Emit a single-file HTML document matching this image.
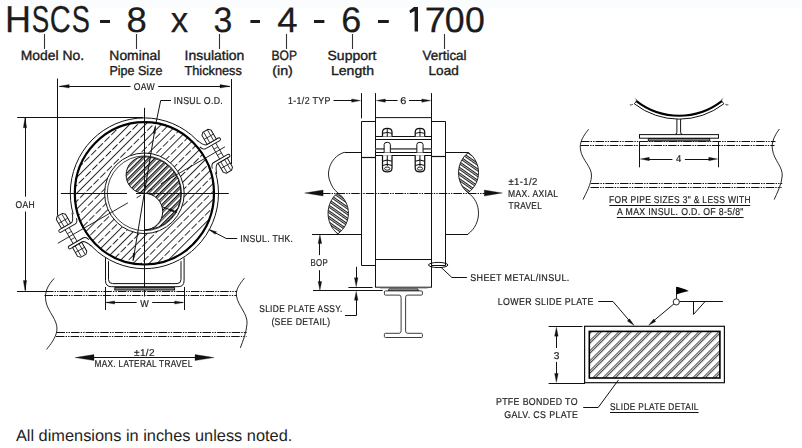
<!DOCTYPE html>
<html><head><meta charset="utf-8"><style>
html,body{margin:0;padding:0;background:#fff;}
body{position:relative;width:802px;height:448px;overflow:hidden;}
svg{display:block;position:absolute;left:0;top:0;}
text{font-family:"Liberation Sans", sans-serif;text-rendering:geometricPrecision;}
#draw{will-change:transform;}
</style></head><body>
<svg width="802" height="448" viewBox="0 0 802 448">
<rect width="802" height="448" fill="#fff"/>
<rect width="802" height="7.5" fill="#fbfcfe"/>
<text transform="translate(4.95,31.57) scale(0.9605,1)" font-size="37.464" fill="#1c1c1c" stroke="#1c1c1c" stroke-width="0.25">H</text>
<text transform="translate(31.65,31.57) scale(0.7006,1)" font-size="37.357" fill="#1c1c1c" stroke="#1c1c1c" stroke-width="0.25">S</text>
<text transform="translate(49.77,31.57) scale(0.7778,1)" font-size="37.357" fill="#1c1c1c" stroke="#1c1c1c" stroke-width="0.25">C</text>
<text transform="translate(71.8,31.57) scale(0.7286,1)" font-size="37.357" fill="#1c1c1c" stroke="#1c1c1c" stroke-width="0.25">S</text>
<text transform="translate(126.58,31.57) scale(1.0320,1)" font-size="35.357" fill="#1c1c1c" stroke="#1c1c1c" stroke-width="0.25">8</text>
<text transform="translate(170.78,31.57) scale(0.9760,1)" font-size="35.755" fill="#1c1c1c" stroke="#1c1c1c" stroke-width="0.25">x</text>
<text transform="translate(213.47,31.57) scale(0.9557,1)" font-size="35.357" fill="#1c1c1c" stroke="#1c1c1c" stroke-width="0.25">3</text>
<text transform="translate(277.14,31.57) scale(1.0338,1)" font-size="35.435" fill="#1c1c1c" stroke="#1c1c1c" stroke-width="0.25">4</text>
<text transform="translate(341.32,31.57) scale(1.0188,1)" font-size="35.357" fill="#1c1c1c" stroke="#1c1c1c" stroke-width="0.25">6</text>
<text transform="translate(424.64,31.57) scale(1.0637,1)" font-size="35.435" fill="#1c1c1c" stroke="#1c1c1c" stroke-width="0.25">7</text>
<text transform="translate(444.7,31.57) scale(1.0105,1)" font-size="35.357" fill="#1c1c1c" stroke="#1c1c1c" stroke-width="0.25">0</text>
<text transform="translate(464.9,31.57) scale(1.0105,1)" font-size="35.357" fill="#1c1c1c" stroke="#1c1c1c" stroke-width="0.25">0</text>
<polygon points="413.9,7 418,7 418,31.6 414.6,31.6 414.6,11 410.3,13.2 409.3,10.7" fill="#1c1c1c"/>
<rect x="100" y="20" width="10" height="3" fill="#1c1c1c"/>
<rect x="250.4" y="20" width="9.6" height="3" fill="#1c1c1c"/>
<rect x="314" y="20" width="10.4" height="3" fill="#1c1c1c"/>
<rect x="378" y="20" width="10.8" height="3" fill="#1c1c1c"/>
<line x1="44.5" y1="34" x2="44.5" y2="49" stroke="#333" stroke-width="1.1"/>
<line x1="136.5" y1="34" x2="136.5" y2="49" stroke="#333" stroke-width="1.1"/>
<line x1="219.5" y1="34" x2="219.5" y2="49" stroke="#333" stroke-width="1.1"/>
<line x1="286.5" y1="34" x2="286.5" y2="49" stroke="#333" stroke-width="1.1"/>
<line x1="352.5" y1="34" x2="352.5" y2="49" stroke="#333" stroke-width="1.1"/>
<line x1="444.5" y1="34" x2="444.5" y2="49" stroke="#333" stroke-width="1.1"/>
<text transform="translate(20.76,59.83) scale(1.0241,1)" font-size="13.551" fill="#1a1a1a" stroke="#1a1a1a" stroke-width="0.35">Model No.</text>
<text transform="translate(109.36,59.83) scale(1.0241,1)" font-size="13.551" fill="#1a1a1a" stroke="#1a1a1a" stroke-width="0.35">Nominal</text>
<text transform="translate(109.47,75.33) scale(0.9656,1)" font-size="12.971" fill="#1a1a1a" stroke="#1a1a1a" stroke-width="0.35">Pipe Size</text>
<text transform="translate(184.62,59.83) scale(1.0296,1)" font-size="13.551" fill="#1a1a1a" stroke="#1a1a1a" stroke-width="0.35">Insulation</text>
<text transform="translate(184.42,75.33) scale(0.9843,1)" font-size="12.971" fill="#1a1a1a" stroke="#1a1a1a" stroke-width="0.35">Thickness</text>
<text transform="translate(271.51,59.83) scale(0.8889,1)" font-size="13.551" fill="#1a1a1a" stroke="#1a1a1a" stroke-width="0.35">BOP</text>
<text transform="translate(272.22,75.33) scale(1.1009,1)" font-size="12.971" fill="#1a1a1a" stroke="#1a1a1a" stroke-width="0.35">(in)</text>
<text transform="translate(327.55,59.83) scale(1.0470,1)" font-size="13.357" fill="#1a1a1a" stroke="#1a1a1a" stroke-width="0.35">Support</text>
<text transform="translate(330.95,75.33) scale(1.0857,1)" font-size="12.971" fill="#1a1a1a" stroke="#1a1a1a" stroke-width="0.35">Length</text>
<text transform="translate(422.51,59.83) scale(0.9912,1)" font-size="13.551" fill="#1a1a1a" stroke="#1a1a1a" stroke-width="0.35">Vertical</text>
<text transform="translate(428.59,75.33) scale(1.0434,1)" font-size="12.971" fill="#1a1a1a" stroke="#1a1a1a" stroke-width="0.35">Load</text>
<text transform="translate(15.9,440.8) scale(1.0085,1)" font-size="16.232" fill="#1e1e1e">All dimensions in inches unless noted.</text>
</svg>
<svg id="draw" width="802" height="448" viewBox="0 0 802 448">
<defs>
<pattern id="hIns" patternUnits="userSpaceOnUse" width="11.2" height="9.5" patternTransform="rotate(45)">
 <line x1="0.5" y1="0" x2="0.5" y2="9.5" stroke="#111" stroke-width="0.9"/>
 <line x1="6.1" y1="0" x2="6.1" y2="7.3" stroke="#111" stroke-width="0.9"/>
</pattern>
<pattern id="hPipe" patternUnits="userSpaceOnUse" width="4.7" height="10" patternTransform="rotate(45)">
 <line x1="0.5" y1="0" x2="0.5" y2="10" stroke="#000" stroke-width="0.95"/>
 <line x1="2.0" y1="0" x2="2.0" y2="10" stroke="#000" stroke-width="0.95"/>
</pattern>
<pattern id="hLens" patternUnits="userSpaceOnUse" width="4.6" height="10" patternTransform="rotate(-55)">
 <line x1="0.6" y1="0" x2="0.6" y2="10" stroke="#111" stroke-width="1"/>
 <line x1="2.2" y1="0" x2="2.2" y2="10" stroke="#111" stroke-width="1"/>
</pattern>
<pattern id="hPlate" patternUnits="userSpaceOnUse" width="7.07" height="10" patternTransform="rotate(45)">
 <line x1="0.6" y1="0" x2="0.6" y2="10" stroke="#111" stroke-width="0.85"/>
 <line x1="2.4" y1="0" x2="2.4" y2="10" stroke="#111" stroke-width="0.85"/>
</pattern>
<clipPath id="insClip"><path d="M74.8,193.3 A69.6,71.2 0 1,0 214,193.3 A69.6,71.2 0 1,0 74.8,193.3 Z M104.6,193.3 A39.8,40.3 0 1,0 184.2,193.3 A39.8,40.3 0 1,0 104.6,193.3 Z" clip-rule="evenodd"/></clipPath>
</defs>
<line x1="57.5" y1="78.6" x2="57.5" y2="215.5" stroke="#111" stroke-width="1"/>
<line x1="231.5" y1="79" x2="231.5" y2="164.2" stroke="#111" stroke-width="1"/>
<line x1="59.4" y1="86.5" x2="130.6" y2="86.5" stroke="#111" stroke-width="1"/>
<line x1="158.2" y1="86.5" x2="229.8" y2="86.5" stroke="#111" stroke-width="1"/>
<polygon points="59.2,86.3 69.2,84.6 69.2,88" fill="#111" stroke="#111" stroke-width="0.3"/>
<polygon points="230,86.3 220,88 220,84.6" fill="#111" stroke="#111" stroke-width="0.3"/>
<text transform="translate(133.71,89.9) scale(0.8801,1)" font-size="9.857" fill="#1e1e1e" stroke="#1e1e1e" stroke-width="0.2" letter-spacing="0.4">OAW</text>
<line x1="17.2" y1="117.5" x2="143" y2="117.5" stroke="#111" stroke-width="1"/>
<line x1="25.5" y1="118" x2="25.5" y2="196.7" stroke="#111" stroke-width="1"/>
<line x1="25.5" y1="211.5" x2="25.5" y2="290.5" stroke="#111" stroke-width="1"/>
<polygon points="25,117.8 26.7,127.8 23.3,127.8" fill="#111" stroke="#111" stroke-width="0.3"/>
<polygon points="25,290.6 23.3,280.6 26.7,280.6" fill="#111" stroke="#111" stroke-width="0.3"/>
<text transform="translate(15.52,207.6) scale(0.8657,1)" font-size="9.857" fill="#1e1e1e" stroke="#1e1e1e" stroke-width="0.2" letter-spacing="0.4">OAH</text>
<line x1="17" y1="291.5" x2="46" y2="291.5" stroke="#111" stroke-width="1"/>
<rect x="70" y="118" width="150" height="150" fill="url(#hIns)" clip-path="url(#insClip)"/>
<ellipse cx="144.4" cy="193.3" rx="74.1" ry="75.4" fill="none" stroke="#111" stroke-width="1"/>
<ellipse cx="144.4" cy="193.3" rx="69.6" ry="71.2" fill="none" stroke="#000" stroke-width="2.2"/>
<ellipse cx="144.4" cy="193.3" rx="39.8" ry="40.3" fill="#fff" stroke="#111" stroke-width="1"/>
<ellipse cx="144.4" cy="193.3" rx="37.1" ry="37.4" fill="none" stroke="#222" stroke-width="0.85"/>
<path d="M144.4,156.7 A18.3,18.3 0 0,0 144.4,193.3 A18.3,18.3 0 0,1 144.4,229.9 A36.6,36.6 0 0,0 144.4,156.7 Z" fill="url(#hPipe)" stroke="#111" stroke-width="1"/>
<line x1="144.5" y1="107.8" x2="144.5" y2="296.5" stroke="#111" stroke-width="1"/>
<line x1="60.9" y1="193.5" x2="127" y2="193.5" stroke="#111" stroke-width="1"/>
<line x1="136" y1="193.5" x2="228.8" y2="193.5" stroke="#111" stroke-width="1"/>
<g transform="translate(144.4,193.3) rotate(-30)"><polygon points="71.3,-17 80,-17 80,17 71.3,17" fill="#fff"/><path d="M72.3,-19.5 Q74.6,-12.6 77.5,-11 L91.6,-11 A1.5,1.5 0 0,1 91.6,-8 L75.5,-8 Q72.3,-8 71.2,-12.5" fill="#fff" stroke="#111" stroke-width="0.95"/><path d="M72.3,19.5 Q74.6,12.6 77.5,11 L91.6,11 A1.5,1.5 0 0,0 91.6,8 L75.5,8 Q72.3,8 71.2,12.5" fill="#fff" stroke="#111" stroke-width="0.95"/><line x1="82.3" y1="-8" x2="82.3" y2="8" stroke="#111" stroke-width="0.8"/><line x1="86.9" y1="-8" x2="86.9" y2="8" stroke="#111" stroke-width="0.8"/><line x1="82.3" y1="-3.5" x2="86.9" y2="-3.5" stroke="#111" stroke-width="0.7"/><line x1="82.3" y1="3.5" x2="86.9" y2="3.5" stroke="#111" stroke-width="0.7"/><polygon points="78.8,-11 78.8,-21.3 81.1,-23.6 87.1,-23.6 89.4,-21.3 89.4,-11" fill="#fff" stroke="#111" stroke-width="0.95"/><line x1="81.9" y1="-11" x2="81.9" y2="-23.2" stroke="#111" stroke-width="0.75"/><line x1="86.3" y1="-11" x2="86.3" y2="-23.2" stroke="#111" stroke-width="0.75"/><line x1="78.8" y1="-16.8" x2="89.4" y2="-16.8" stroke="#111" stroke-width="0.75"/><polygon points="78.8,11 78.8,21.3 81.1,23.6 87.1,23.6 89.4,21.3 89.4,11" fill="#fff" stroke="#111" stroke-width="0.95"/><line x1="81.9" y1="11" x2="81.9" y2="23.2" stroke="#111" stroke-width="0.75"/><line x1="86.3" y1="11" x2="86.3" y2="23.2" stroke="#111" stroke-width="0.75"/><line x1="78.8" y1="16.8" x2="89.4" y2="16.8" stroke="#111" stroke-width="0.75"/></g>
<g transform="translate(144.4,193.3) rotate(150)"><polygon points="71.3,-17 80,-17 80,17 71.3,17" fill="#fff"/><path d="M72.3,-19.5 Q74.6,-12.6 77.5,-11 L91.6,-11 A1.5,1.5 0 0,1 91.6,-8 L75.5,-8 Q72.3,-8 71.2,-12.5" fill="#fff" stroke="#111" stroke-width="0.95"/><path d="M72.3,19.5 Q74.6,12.6 77.5,11 L91.6,11 A1.5,1.5 0 0,0 91.6,8 L75.5,8 Q72.3,8 71.2,12.5" fill="#fff" stroke="#111" stroke-width="0.95"/><line x1="82.3" y1="-8" x2="82.3" y2="8" stroke="#111" stroke-width="0.8"/><line x1="86.9" y1="-8" x2="86.9" y2="8" stroke="#111" stroke-width="0.8"/><line x1="82.3" y1="-3.5" x2="86.9" y2="-3.5" stroke="#111" stroke-width="0.7"/><line x1="82.3" y1="3.5" x2="86.9" y2="3.5" stroke="#111" stroke-width="0.7"/><polygon points="78.8,-11 78.8,-21.3 81.1,-23.6 87.1,-23.6 89.4,-21.3 89.4,-11" fill="#fff" stroke="#111" stroke-width="0.95"/><line x1="81.9" y1="-11" x2="81.9" y2="-23.2" stroke="#111" stroke-width="0.75"/><line x1="86.3" y1="-11" x2="86.3" y2="-23.2" stroke="#111" stroke-width="0.75"/><line x1="78.8" y1="-16.8" x2="89.4" y2="-16.8" stroke="#111" stroke-width="0.75"/><polygon points="78.8,11 78.8,21.3 81.1,23.6 87.1,23.6 89.4,21.3 89.4,11" fill="#fff" stroke="#111" stroke-width="0.95"/><line x1="81.9" y1="11" x2="81.9" y2="23.2" stroke="#111" stroke-width="0.75"/><line x1="86.3" y1="11" x2="86.3" y2="23.2" stroke="#111" stroke-width="0.75"/><line x1="78.8" y1="16.8" x2="89.4" y2="16.8" stroke="#111" stroke-width="0.75"/></g>
<line x1="160.85" y1="183.8" x2="224.94" y2="146.8" stroke="#111" stroke-width="0.9"/>
<line x1="147.86" y1="191.3" x2="152.19" y2="188.8" stroke="#111" stroke-width="0.9"/>
<line x1="127.95" y1="202.8" x2="57.8" y2="243.3" stroke="#111" stroke-width="0.9"/>
<line x1="140.94" y1="195.3" x2="136.61" y2="197.8" stroke="#111" stroke-width="0.9"/>
<line x1="155.4" y1="126.5" x2="133.1" y2="260.5" stroke="#111" stroke-width="1"/>
<polygon points="155.5,125.4 155.42,133.5 152.95,133.09" fill="#111" stroke="#111" stroke-width="0.3"/>
<polygon points="133,261.2 133.03,253.1 135.59,253.52" fill="#111" stroke="#111" stroke-width="0.3"/>
<polyline points="171,100.5 160.7,100.5 156.1,122.5" fill="none" stroke="#111" stroke-width="1"/>
<text transform="translate(173.71,104.2) scale(0.8764,1)" font-size="10.000" fill="#1e1e1e" stroke="#1e1e1e" stroke-width="0.2" letter-spacing="0.4">INSUL O.D.</text>
<polyline points="162.3,206.8 176.8,212.3" fill="none" stroke="#111" stroke-width="1"/>
<polygon points="177,212.4 169.06,210.78 169.98,208.35" fill="#111" stroke="#111" stroke-width="0.3"/>
<polyline points="237.2,238.5 226.2,238.5 209.5,229.8" fill="none" stroke="#111" stroke-width="1"/>
<polygon points="208.7,229.4 216.53,231.63 215.19,234.31" fill="#111" stroke="#111" stroke-width="0.3"/>
<text transform="translate(240.23,241.7) scale(0.8562,1)" font-size="10.000" fill="#1e1e1e" stroke="#1e1e1e" stroke-width="0.2" letter-spacing="0.4">INSUL. THK.</text>
<path d="M105.5,257.6 V280.7 Q105.5,286.7 111.5,286.7 H178.1 Q184.1,286.7 184.1,280.7 V257.6" fill="none" stroke="#111" stroke-width="1"/>
<path d="M108.5,261.2 V279.6 Q108.5,283.6 112.5,283.6 H177 Q181,283.6 181,279.6 V261.2" fill="none" stroke="#111" stroke-width="1"/>
<rect x="114.8" y="287.6" width="59.8" height="2.4" fill="#8a8a8a" stroke="#111" stroke-width="0.95"/>
<line x1="105.5" y1="287" x2="105.5" y2="310" stroke="#111" stroke-width="1"/>
<line x1="184.5" y1="287" x2="184.5" y2="310" stroke="#111" stroke-width="1"/>
<line x1="106.5" y1="302.5" x2="136.7" y2="302.5" stroke="#111" stroke-width="1"/>
<line x1="152.2" y1="302.5" x2="183" y2="302.5" stroke="#111" stroke-width="1"/>
<polygon points="105.6,302.5 114.6,300.9 114.6,304.1" fill="#111" stroke="#111" stroke-width="0.3"/>
<polygon points="183.7,302.5 174.7,304.1 174.7,300.9" fill="#111" stroke="#111" stroke-width="0.3"/>
<text transform="translate(140.26,306.6) scale(0.8984,1)" font-size="10.000" fill="#1e1e1e" stroke="#1e1e1e" stroke-width="0.2" letter-spacing="0.4">W</text>
<line x1="45" y1="291.5" x2="237" y2="291.5" stroke="#111" stroke-width="1" stroke-dasharray="8.5 1.1 1.4 1.1 1.4 1.1"/>
<line x1="44.5" y1="295.5" x2="236.5" y2="295.5" stroke="#111" stroke-width="1" stroke-dasharray="8.5 1.1 1.4 1.1 1.4 1.1"/>
<line x1="56.5" y1="332.5" x2="247" y2="332.5" stroke="#111" stroke-width="1" stroke-dasharray="8.5 1.1 1.4 1.1 1.4 1.1"/>
<line x1="56" y1="336.5" x2="246.5" y2="336.5" stroke="#111" stroke-width="1" stroke-dasharray="8.5 1.1 1.4 1.1 1.4 1.1"/>
<path d="M54.2,278.4 C48,285 44,292 46,302 C48,312 58,320 56.9,330.3 C56,338 50,345 46.6,349.4" fill="none" stroke="#111" stroke-width="0.9"/>
<path d="M244.3,278.2 C240,284 235.5,289 236.5,296 C238,306 248,314 247,323.8 C246.5,332 243,341 240.3,347.9" fill="none" stroke="#111" stroke-width="0.9"/>
<line x1="80" y1="357.5" x2="210" y2="357.5" stroke="#111" stroke-width="1"/>
<polygon points="75,357.6 94,354.6 94,360.6" fill="#111" stroke="#111" stroke-width="0.3"/>
<polygon points="214,357.6 195,360.6 195,354.6" fill="#111" stroke="#111" stroke-width="0.3"/>
<text transform="translate(134,355.9) scale(1.0000,1)" font-size="10.000" fill="#1e1e1e" stroke="#1e1e1e" stroke-width="0.2" letter-spacing="0.4">±1/2</text>
<text transform="translate(94.44,366.9) scale(0.8250,1)" font-size="10.000" fill="#1e1e1e" stroke="#1e1e1e" stroke-width="0.2" letter-spacing="0.4">MAX. LATERAL TRAVEL</text>
<line x1="361.5" y1="93.1" x2="361.5" y2="118.4" stroke="#111" stroke-width="1"/>
<line x1="375.5" y1="93.1" x2="375.5" y2="117.6" stroke="#111" stroke-width="1"/>
<line x1="431.5" y1="93.1" x2="431.5" y2="117.6" stroke="#111" stroke-width="1"/>
<line x1="333.5" y1="100.5" x2="352" y2="100.5" stroke="#111" stroke-width="1"/>
<polygon points="360.6,100.6 351.6,102.3 351.6,98.9" fill="#111" stroke="#111" stroke-width="0.3"/>
<text transform="translate(288.04,103.6) scale(0.8834,1)" font-size="10.000" fill="#1e1e1e" stroke="#1e1e1e" stroke-width="0.2" letter-spacing="0.4">1-1/2 TYP</text>
<line x1="384" y1="100.5" x2="397.6" y2="100.5" stroke="#111" stroke-width="1"/>
<polygon points="376.3,100.6 385.3,98.9 385.3,102.3" fill="#111" stroke="#111" stroke-width="0.3"/>
<line x1="409" y1="100.5" x2="423" y2="100.5" stroke="#111" stroke-width="1"/>
<polygon points="430.8,100.6 421.8,102.3 421.8,98.9" fill="#111" stroke="#111" stroke-width="0.3"/>
<text transform="translate(400.25,104.3) scale(1.1127,1)" font-size="9.857" fill="#1e1e1e" stroke="#1e1e1e" stroke-width="0.2" letter-spacing="0.4">6</text>
<line x1="344.4" y1="152.5" x2="361.5" y2="152.5" stroke="#111" stroke-width="1"/>
<line x1="445.5" y1="152.5" x2="468.4" y2="152.5" stroke="#111" stroke-width="1"/>
<line x1="312" y1="234.5" x2="361.5" y2="234.5" stroke="#111" stroke-width="1"/>
<line x1="445.5" y1="234.5" x2="468" y2="234.5" stroke="#111" stroke-width="1"/>
<path d="M344.4,152.3 C332,156 326,170 329.5,180 C331.5,186 334,190 337.8,192.8" fill="none" stroke="#111" stroke-width="0.9"/>
<path d="M337.8,192.8 C324.8,203 324.8,223.5 337.8,233.9 C352,223.5 352,203 337.8,192.8 Z" fill="url(#hLens)" stroke="#111" stroke-width="0.9"/>
<path d="M468.4,152.5 C455.3,162.5 455.3,182.7 468,192.8 C482,182.7 482,162.5 468.4,152.5 Z" fill="url(#hLens)" stroke="#111" stroke-width="0.9"/>
<path d="M468,192.8 C482,202 482,224 468,234" fill="none" stroke="#111" stroke-width="0.9"/>
<polyline points="375.5,121.5 361.5,121.5 361.5,265.5 375.5,265.5" fill="none" stroke="#111" stroke-width="1"/>
<polyline points="431.5,121.5 445.5,121.5 445.5,265.5 431.5,265.5" fill="none" stroke="#111" stroke-width="1"/>
<line x1="361.5" y1="157.5" x2="375.5" y2="157.5" stroke="#111" stroke-width="1.2"/>
<line x1="431.5" y1="156.5" x2="445.5" y2="156.5" stroke="#111" stroke-width="1.2"/>
<rect x="375.5" y="117.6" width="56" height="169.6" fill="none" stroke="#111" stroke-width="1"/>
<line x1="375.5" y1="259.5" x2="431.5" y2="259.5" stroke="#111" stroke-width="1"/>
<line x1="375.5" y1="136.5" x2="431.5" y2="136.5" stroke="#111" stroke-width="1"/>
<line x1="375.5" y1="139.5" x2="431.5" y2="139.5" stroke="#111" stroke-width="1"/>
<line x1="375.5" y1="148.8" x2="431.5" y2="148.8" stroke="#666" stroke-width="1.7"/>
<line x1="375.5" y1="152.5" x2="431.5" y2="152.5" stroke="#111" stroke-width="1"/>
<line x1="375.5" y1="155.5" x2="431.5" y2="155.5" stroke="#111" stroke-width="1"/>
<path d="M382.5,136.6 V132 Q382.5,128.4 387.25,128.4 Q392,128.4 392,132 V136.6" fill="#fff" stroke="#111" stroke-width="1.25"/>
<path d="M382.5,133.4 L387.25,132.4 L392,133.4" fill="none" stroke="#111" stroke-width="1"/>
<line x1="387.25" y1="128.6" x2="387.25" y2="136.6" stroke="#111" stroke-width="1"/>
<path d="M384.15,152.4 V144.4 Q384.15,142.3 387.25,142.3 Q390.35,142.3 390.35,144.4 V152.4" fill="#fff" stroke="#111" stroke-width="1"/>
<path d="M382.5,155.3 V168 Q382.5,171.9 387.25,171.9 Q392,171.9 392,168 V155.3" fill="#fff" stroke="#111" stroke-width="1.25"/>
<line x1="387.25" y1="155.4" x2="387.25" y2="166.2" stroke="#111" stroke-width="1"/>
<path d="M382.5,161.3 L387.25,160.1 L392,161.3" fill="none" stroke="#111" stroke-width="1.05"/>
<path d="M382.5,165.4 L387.25,164.2 L392,165.4" fill="none" stroke="#111" stroke-width="1.05"/>
<ellipse cx="387.25" cy="168.6" rx="2.6" ry="1.6" fill="none" stroke="#111" stroke-width="0.95"/>
<path d="M415.2,136.6 V132 Q415.2,128.4 419.95,128.4 Q424.7,128.4 424.7,132 V136.6" fill="#fff" stroke="#111" stroke-width="1.25"/>
<path d="M415.2,133.4 L419.95,132.4 L424.7,133.4" fill="none" stroke="#111" stroke-width="1"/>
<line x1="419.95" y1="128.6" x2="419.95" y2="136.6" stroke="#111" stroke-width="1"/>
<path d="M416.85,152.4 V144.4 Q416.85,142.3 419.95,142.3 Q423.05,142.3 423.05,144.4 V152.4" fill="#fff" stroke="#111" stroke-width="1"/>
<path d="M415.2,155.3 V168 Q415.2,171.9 419.95,171.9 Q424.7,171.9 424.7,168 V155.3" fill="#fff" stroke="#111" stroke-width="1.25"/>
<line x1="419.95" y1="155.4" x2="419.95" y2="166.2" stroke="#111" stroke-width="1"/>
<path d="M415.2,161.3 L419.95,160.1 L424.7,161.3" fill="none" stroke="#111" stroke-width="1.05"/>
<path d="M415.2,165.4 L419.95,164.2 L424.7,165.4" fill="none" stroke="#111" stroke-width="1.05"/>
<ellipse cx="419.95" cy="168.6" rx="2.6" ry="1.6" fill="none" stroke="#111" stroke-width="0.95"/>
<line x1="322" y1="193.5" x2="486" y2="193.5" stroke="#111" stroke-width="1" stroke-dasharray="8.5 1.1 1.4 1.1 1.4 1.1"/>
<polygon points="304.7,193 323.1,190 323.1,196" fill="#111" stroke="#111" stroke-width="0.3"/>
<polygon points="502.3,193 484.3,196 484.3,190" fill="#111" stroke="#111" stroke-width="0.3"/>
<text transform="translate(508.41,184.8) scale(0.9576,1)" font-size="10.000" fill="#1e1e1e" stroke="#1e1e1e" stroke-width="0.2" letter-spacing="0.4">±1-1/2</text>
<text transform="translate(508.02,196.7) scale(0.8504,1)" font-size="10.000" fill="#1e1e1e" stroke="#1e1e1e" stroke-width="0.2" letter-spacing="0.4">MAX. AXIAL</text>
<text transform="translate(508.53,208.65) scale(0.8272,1)" font-size="10.000" fill="#1e1e1e" stroke="#1e1e1e" stroke-width="0.2" letter-spacing="0.4">TRAVEL</text>
<ellipse cx="438.2" cy="265" rx="9.7" ry="2.6" fill="none" stroke="#111" stroke-width="1"/>
<polyline points="441,267.3 451.9,277.5 466.9,277.5" fill="none" stroke="#111" stroke-width="1"/>
<text transform="translate(470.2,281.3) scale(0.9108,1)" font-size="9.857" fill="#1e1e1e" stroke="#1e1e1e" stroke-width="0.2" letter-spacing="0.4">SHEET METAL/INSUL.</text>
<line x1="313" y1="290.5" x2="382.7" y2="290.5" stroke="#111" stroke-width="1"/>
<line x1="319.5" y1="243" x2="319.5" y2="255.1" stroke="#111" stroke-width="1"/>
<line x1="319.5" y1="270.2" x2="319.5" y2="282" stroke="#111" stroke-width="1"/>
<polygon points="319.9,234.6 321.7,243.6 318.1,243.6" fill="#111" stroke="#111" stroke-width="0.3"/>
<polygon points="319.9,290.4 318.1,281.4 321.7,281.4" fill="#111" stroke="#111" stroke-width="0.3"/>
<text transform="translate(310.47,265.6) scale(0.7864,1)" font-size="10.000" fill="#1e1e1e" stroke="#1e1e1e" stroke-width="0.2" letter-spacing="0.4">BOP</text>
<line x1="348.4" y1="287.5" x2="372.6" y2="287.5" stroke="#111" stroke-width="1"/>
<line x1="356.5" y1="266.8" x2="356.5" y2="279" stroke="#111" stroke-width="1"/>
<polygon points="356.2,286.8 354.4,277.8 358,277.8" fill="#111" stroke="#111" stroke-width="0.3"/>
<polyline points="356.5,299 356.5,315.5 345,315.5" fill="none" stroke="#111" stroke-width="1"/>
<polygon points="356.2,291.3 358,300.3 354.4,300.3" fill="#111" stroke="#111" stroke-width="0.3"/>
<text transform="translate(259.22,312.3) scale(0.8487,1)" font-size="9.857" fill="#1e1e1e" stroke="#1e1e1e" stroke-width="0.2" letter-spacing="0.4">SLIDE PLATE ASSY.</text>
<text transform="translate(271.38,324.65) scale(0.8757,1)" font-size="9.857" fill="#1e1e1e" stroke="#1e1e1e" stroke-width="0.2" letter-spacing="0.4">(SEE DETAIL)</text>
<path d="M389.2,288.7 H417.6 L418.6,290.9 H388.2 Z" fill="#9a9a9a" stroke="#111" stroke-width="0.9"/>
<line x1="380" y1="288.4" x2="427.6" y2="288.4" stroke="#888" stroke-width="0.6"/>
<path d="M385.4,290.9 H421.4 Q422.4,290.9 422.4,291.9 V294.1 Q422.4,295.1 421.4,295.1 H407.6 Q405.6,295.1 405.6,297.5 V330.9 Q405.6,333.3 407.6,333.3 H421.4 Q422.4,333.3 422.4,334.3 V336.5 Q422.4,337.5 421.4,337.5 H385.4 Q384.4,337.5 384.4,336.5 V334.3 Q384.4,333.3 385.4,333.3 H399.1 Q401.1,333.3 401.1,330.9 V297.5 Q401.1,295.1 399.1,295.1 H385.4 Q384.4,295.1 384.4,294.1 V291.9 Q384.4,290.9 385.4,290.9 Z" fill="#fff" stroke="#333" stroke-width="0.95"/>
<path d="M636.44,101.09 A69.6,69.6 0 0,0 721.76,101.09" fill="none" stroke="#000" stroke-width="2.1"/>
<path d="M634.33,103.82 A73.05,73.05 0 0,0 723.87,103.82" fill="none" stroke="#111" stroke-width="1"/>
<line x1="636.44" y1="101.09" x2="634.33" y2="103.82" stroke="#111" stroke-width="0.9"/>
<line x1="721.76" y1="101.09" x2="723.87" y2="103.82" stroke="#111" stroke-width="0.9"/>
<path d="M635.44,98.59 q1.5,1 1,2.5 M632.83,104.32 q-1.5,1 -3,0.5" fill="none" stroke="#111" stroke-width="0.8"/>
<path d="M722.76,98.59 q-1.5,1 -1,2.5 M725.37,104.32 q1.5,1 3,0.5" fill="none" stroke="#111" stroke-width="0.8"/>
<path d="M676.9,119 V132.2 Q676.9,134.6 674.5,134.6 M680.6,119 V132.2 Q680.6,134.6 683,134.6" fill="none" stroke="#111" stroke-width="1"/>
<rect x="639.5" y="134.6" width="79" height="3.6" fill="#fff" stroke="#111" stroke-width="1"/>
<rect x="648.3" y="138.6" width="61.4" height="2.4" fill="#8a8a8a" stroke="#111" stroke-width="0.95"/>
<line x1="581" y1="141.5" x2="775.5" y2="141.5" stroke="#111" stroke-width="1" stroke-dasharray="8.5 1.1 1.4 1.1 1.4 1.1"/>
<line x1="580.5" y1="145.5" x2="774.5" y2="145.5" stroke="#111" stroke-width="1" stroke-dasharray="8.5 1.1 1.4 1.1 1.4 1.1"/>
<line x1="590.8" y1="183.5" x2="782.2" y2="183.5" stroke="#111" stroke-width="1" stroke-dasharray="8.5 1.1 1.4 1.1 1.4 1.1"/>
<line x1="590.5" y1="187.5" x2="781.6" y2="187.5" stroke="#111" stroke-width="1" stroke-dasharray="8.5 1.1 1.4 1.1 1.4 1.1"/>
<path d="M588.6,129.3 C584,135 579,142 580.5,150 C582,160 592,167 591.5,176 C591,185 586,193 583,199.6" fill="none" stroke="#111" stroke-width="0.9"/>
<path d="M779.4,129 C775,135 771,142 772.5,150 C774,160 783,167 782.2,176 C781.5,185 777,193 774.2,199.6" fill="none" stroke="#111" stroke-width="0.9"/>
<line x1="639.5" y1="141.6" x2="639.5" y2="167.3" stroke="#111" stroke-width="1"/>
<line x1="718.5" y1="141.6" x2="718.5" y2="167.3" stroke="#111" stroke-width="1"/>
<line x1="648" y1="159.5" x2="672.4" y2="159.5" stroke="#111" stroke-width="1"/>
<line x1="684.9" y1="159.5" x2="710" y2="159.5" stroke="#111" stroke-width="1"/>
<polygon points="640.3,159 649.3,157.3 649.3,160.7" fill="#111" stroke="#111" stroke-width="0.3"/>
<polygon points="717.7,159 708.7,160.7 708.7,157.3" fill="#111" stroke="#111" stroke-width="0.3"/>
<text transform="translate(676.01,162.2) scale(0.9505,1)" font-size="10.000" fill="#1e1e1e" stroke="#1e1e1e" stroke-width="0.2" letter-spacing="0.4">4</text>
<text transform="translate(609.02,203.2) scale(0.8448,1)" font-size="10.000" fill="#1e1e1e" stroke="#1e1e1e" stroke-width="0.2" letter-spacing="0.4">FOR PIPE SIZES 3&quot; &amp; LESS WITH</text>
<line x1="609.4" y1="205.5" x2="750.2" y2="205.5" stroke="#111" stroke-width="1"/>
<text transform="translate(617.1,215.4) scale(0.8708,1)" font-size="10.000" fill="#1e1e1e" stroke="#1e1e1e" stroke-width="0.2" letter-spacing="0.4">A MAX INSUL. O.D. OF 8-5/8&quot;</text>
<line x1="616.8" y1="217.5" x2="743.6" y2="217.5" stroke="#111" stroke-width="1"/>
<text transform="translate(497.79,304.8) scale(0.8821,1)" font-size="10.000" fill="#1e1e1e" stroke="#1e1e1e" stroke-width="0.2" letter-spacing="0.4">LOWER SLIDE PLATE</text>
<polyline points="598.3,301.5 613,301.5 630.4,321.9" fill="none" stroke="#111" stroke-width="1"/>
<polygon points="634.2,325.5 627.32,321.12 629.53,318.81" fill="#111" stroke="#111" stroke-width="0.3"/>
<circle cx="676.3" cy="301.9" r="3.1" fill="none" stroke="#111" stroke-width="0.9"/>
<line x1="679.4" y1="301.5" x2="722.9" y2="301.5" stroke="#111" stroke-width="1"/>
<line x1="676.5" y1="298.8" x2="676.5" y2="287" stroke="#111" stroke-width="0.9"/>
<path d="M676.3,286.8 Q681,287.6 688.8,290.9 Q681,292.6 676.3,294.4 Z" fill="#000"/>
<polyline points="693.2,301.5 705.1,301.5 693.5,314.4 693.5,301.9" fill="none" stroke="#111" stroke-width="1"/>
<line x1="673.9" y1="303.9" x2="652.5" y2="321.8" stroke="#111" stroke-width="1"/>
<polygon points="648.6,325.3 653.73,318.96 655.78,321.42" fill="#111" stroke="#111" stroke-width="0.3"/>
<rect x="584.6" y="326.3" width="139.8" height="56.4" fill="#fff" stroke="#111" stroke-width="1.2"/>
<rect x="589.3" y="331.4" width="130.6" height="46.6" fill="url(#hPlate)" stroke="#000" stroke-width="1.6"/>
<line x1="548.6" y1="326.5" x2="582.5" y2="326.5" stroke="#111" stroke-width="1"/>
<line x1="548.6" y1="383.5" x2="585" y2="383.5" stroke="#111" stroke-width="1"/>
<line x1="556.5" y1="335" x2="556.5" y2="348.1" stroke="#111" stroke-width="1"/>
<line x1="556.5" y1="361.9" x2="556.5" y2="375" stroke="#111" stroke-width="1"/>
<polygon points="556.4,327.2 558.2,336.2 554.6,336.2" fill="#111" stroke="#111" stroke-width="0.3"/>
<polygon points="556.4,382.4 554.6,373.4 558.2,373.4" fill="#111" stroke="#111" stroke-width="0.3"/>
<text transform="translate(553.7,358.5) scale(1.0252,1)" font-size="9.857" fill="#1e1e1e" stroke="#1e1e1e" stroke-width="0.2" letter-spacing="0.4">3</text>
<polyline points="583.2,407.5 598.2,407.5 618.5,379.9" fill="none" stroke="#111" stroke-width="1"/>
<text transform="translate(495.9,404.6) scale(0.8812,1)" font-size="10.000" fill="#1e1e1e" stroke="#1e1e1e" stroke-width="0.2" letter-spacing="0.4">PTFE BONDED TO</text>
<text transform="translate(504.16,417.5) scale(0.8986,1)" font-size="9.857" fill="#1e1e1e" stroke="#1e1e1e" stroke-width="0.2" letter-spacing="0.4">GALV. CS PLATE</text>
<text transform="translate(609.93,409.7) scale(0.8438,1)" font-size="9.857" fill="#1e1e1e" stroke="#1e1e1e" stroke-width="0.2" letter-spacing="0.4">SLIDE PLATE DETAIL</text>
<line x1="610" y1="412.5" x2="698.6" y2="412.5" stroke="#111" stroke-width="1"/>
</svg>
</body></html>
